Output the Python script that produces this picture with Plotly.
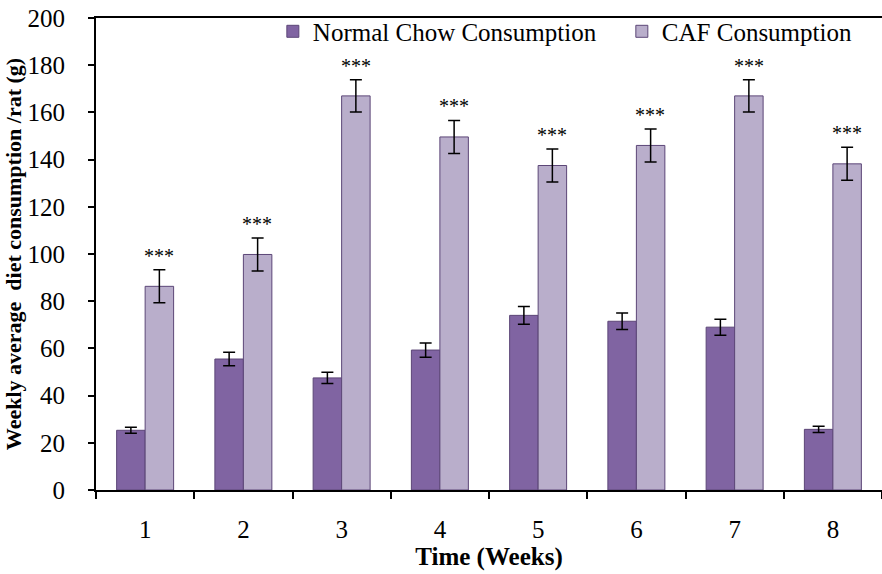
import plotly.graph_objects as go

weeks = ["1", "2", "3", "4", "5", "6", "7", "8"]
normal_vals = [25.3, 55.5, 47.5, 59.3, 74.0, 71.5, 69.0, 25.7]
normal_err = [1.3, 2.9, 2.4, 3.0, 3.8, 3.5, 3.4, 1.3]
caf_vals = [86.3, 99.8, 167.0, 149.6, 137.5, 146.0, 167.0, 138.2]
caf_err = [7.0, 7.0, 6.8, 7.0, 7.0, 7.0, 6.8, 7.0]
sig_labels = ["***"] * 8

serif = "Liberation Serif"

fig = go.Figure()
fig.add_trace(go.Bar(
    name="Normal Chow Consumption", x=weeks, y=normal_vals, legend="legend",
    marker=dict(color="#8064A2", line=dict(color="#5C4677", width=1)),
    error_y=dict(type="data", array=normal_err, color="black", thickness=1.5, width=6),
))
fig.add_trace(go.Bar(
    name="CAF Consumption", x=weeks, y=caf_vals, legend="legend2",
    marker=dict(color="#B9AECB", line=dict(color="#5C4677", width=1)),
    error_y=dict(type="data", array=caf_err, color="black", thickness=1.5, width=6),
))

for i, (v, e, s) in enumerate(zip(caf_vals, caf_err, sig_labels)):
    fig.add_annotation(x=i, y=v + e, text=s, showarrow=False, xshift=14, yshift=1,
                       yanchor="bottom", font=dict(family=serif, size=20, color="black"))

legend_common = dict(orientation="h", y=1.02, xanchor="left", yanchor="top",
                     bgcolor="rgba(0,0,0,0)", font=dict(family=serif, size=25),
                     itemwidth=30)

fig.update_layout(
    width=882, height=574,
    margin=dict(l=96, r=0, t=18, b=84),
    paper_bgcolor="white", plot_bgcolor="white",
    barmode="group", bargap=0.42, bargroupgap=0,
    font=dict(family=serif, size=20, color="black"),
    legend=dict(x=0.225, **legend_common),
    legend2=dict(x=0.669, **legend_common),
    showlegend=True,
)
fig.update_xaxes(
    type="category", tickson="boundaries", ticks="outside", ticklen=7, tickwidth=1.5,
    tickcolor="black", showline=True, linecolor="black", linewidth=2, mirror=True,
    showgrid=False, tickfont=dict(family=serif, size=25), ticklabelstandoff=16,
    range=[-0.5, 7.5],
    title=dict(text="<b>Time (Weeks)</b>", font=dict(family=serif, size=25), standoff=0),
)
fig.update_yaxes(
    range=[0, 200], dtick=20, ticks="outside", ticklen=6, tickwidth=1.5, tickcolor="black",
    showline=True, linecolor="black", linewidth=2, showgrid=False, zeroline=False,
    tickfont=dict(family=serif, size=25), ticklabelstandoff=18,
    title=dict(text="<b>Weekly average  diet consumption /rat (g)</b>",
               font=dict(family=serif, size=22), standoff=0),
)

fig.write_html("out.html")
